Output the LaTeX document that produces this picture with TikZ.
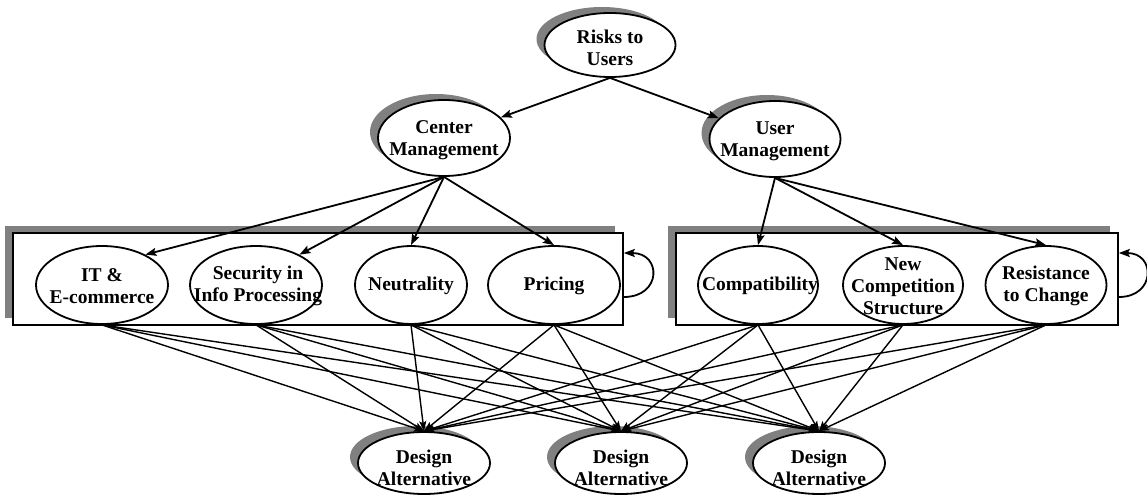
\documentclass[tikz,border=0pt]{standalone}
\usepackage{fontspec}
\setmainfont{Liberation Serif}
\usetikzlibrary{shapes.geometric,shadows,arrows.meta,calc}
\definecolor{shgray}{RGB}{128,128,128}
\begin{document}
\begin{tikzpicture}[x=1pt,y=-1pt,
  font=\fontsize{19.5}{22}\selectfont\bfseries,
  ell/.style={ellipse, draw, line width=1.8pt, fill=white, inner sep=0pt},
  shad/.style={general shadow={fill=shgray, shadow xshift=-8pt, shadow yshift=6pt}},
  boxshad/.style={general shadow={fill=shgray, shadow xshift=-8pt, shadow yshift=7pt}},
  grp/.style={rectangle, draw, line width=1.6pt, fill=white, inner sep=0pt},
  txt/.style={align=center, inner sep=0pt},
  hi/.style={line width=1.8pt, -{Stealth[length=11pt,width=8pt,inset=2pt]}},
  lo/.style={line width=1.4pt, -{Stealth[length=10pt,width=7pt,inset=2pt]}},
  lp/.style={line width=1.8pt, -{Stealth[length=11pt,width=8pt,inset=2pt]}}
]
\useasboundingbox (0,0) rectangle (1147,497);

% top level
\node[ell, shad, minimum width=131pt, minimum height=64pt] (risk) at (610,45) {};
\node[txt] (riskT) at (610,48) {Risks to\\Users};
\node[ell, shad, minimum width=132pt, minimum height=76pt] (cm) at (444,138) {};
\node[txt] (cmT) at (444,140) {Center\\Management};
\node[ell, shad, minimum width=131pt, minimum height=76pt] (um) at (775,139) {};
\node[txt] (umT) at (775,141) {User\\Management};

% group boxes
\node[grp, boxshad, minimum width=610pt, minimum height=92pt] (b1) at (318,279) {};
\node[grp, boxshad, minimum width=442pt, minimum height=92pt] (b2) at (897,279) {};

% middle ellipses
\node[ell, minimum width=132pt, minimum height=78pt] (it) at (102,285) {};
\node[txt] (itT) at (102,286) {IT \&\\E-commerce};
\node[ell, minimum width=132pt, minimum height=78pt] (sec) at (256,285) {};
\node[txt] (secT) at (258,286) {Security in\\Info Processing};
\node[ell, minimum width=112pt, minimum height=78pt] (neu) at (411,285) {};
\node[txt] (neuT) at (411,286) {Neutrality};
\node[ell, minimum width=132pt, minimum height=78pt] (pri) at (554,285) {};
\node[txt] (priT) at (554,286) {Pricing};
\node[ell, minimum width=120pt, minimum height=78pt] (com) at (758,285) {};
\node[txt] (comT) at (760,286) {Compatibility};
\node[ell, minimum width=120pt, minimum height=78pt] (nc) at (903,285) {};
\node[txt] (ncT) at (903,286) {New\\Competition\\Structure};
\node[ell, minimum width=121pt, minimum height=78pt] (res) at (1046,285) {};
\node[txt] (resT) at (1046,286) {Resistance\\to Change};

% design alternatives
\node[ell, shad, minimum width=132pt, minimum height=62pt] (da1) at (424,463) {};
\node[txt] (da1T) at (424,468) {Design\\Alternative};
\node[ell, shad, minimum width=132pt, minimum height=62pt] (da2) at (621,463) {};
\node[txt] (da2T) at (621,468) {Design\\Alternative};
\node[ell, shad, minimum width=132pt, minimum height=62pt] (da3) at (819,463) {};
\node[txt] (da3T) at (819,468) {Design\\Alternative};

% upper arrows
\draw[hi] (risk.south) -- (cm);
\draw[hi] (risk.south) -- (um);
\draw[hi] (cm.south) -- (it.35);
\draw[hi] (cm.south) -- (sec.35);
\draw[hi] (cm.south) -- (neu.north);
\draw[hi] (cm.south) -- (pri.north);
\draw[hi] (um.south) -- (com.north);
\draw[hi] (um.south) -- (nc.north);
\draw[hi] (um.south) -- (res.north);

% self loops
\coordinate (l1a) at ($(b1.east)+(0,18)$);
\coordinate (l1b) at ($(b1.east)+(0,-26)$);
\coordinate (l1c) at ($(b1.east)+(38,18)$);
\coordinate (l1d) at ($(b1.east)+(38,-26)$);
\draw[lp] (l1a) .. controls (l1c) and (l1d) .. (l1b);
\coordinate (l2a) at ($(b2.east)+(0,18)$);
\coordinate (l2b) at ($(b2.east)+(0,-26)$);
\coordinate (l2c) at ($(b2.east)+(37,18)$);
\coordinate (l2d) at ($(b2.east)+(37,-26)$);
\draw[lp] (l2a) .. controls (l2c) and (l2d) .. (l2b);

% lower arrows
\foreach \s in {it,sec,neu,pri,com,nc,res}{
  \foreach \d in {da1,da2,da3}{
    \draw[lo] (\s.south) -- (\d.north);
  }
}
\end{tikzpicture}
\end{document}
